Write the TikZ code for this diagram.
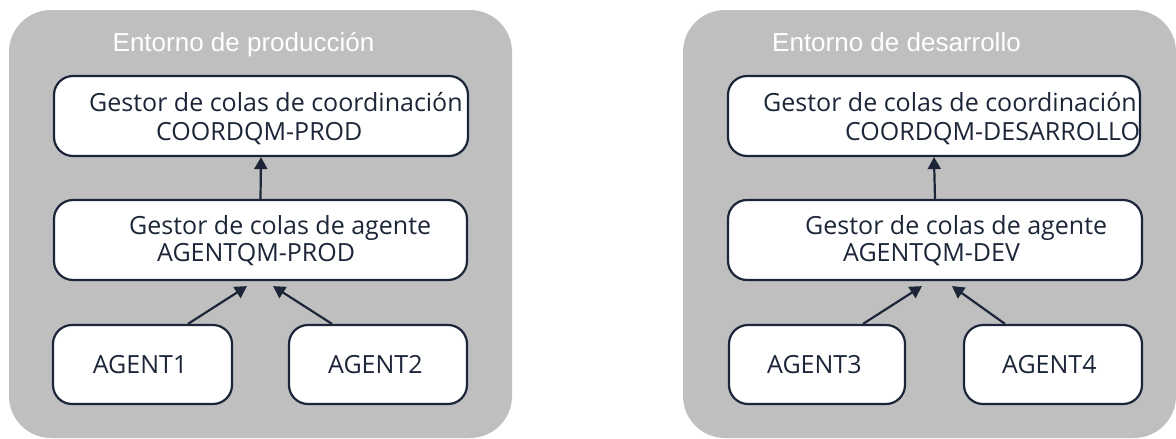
\documentclass[tikz,border=0pt]{standalone}
\usepackage{fontspec}
\setmainfont{Open Sans}
\newfontfamily\titlefont{Liberation Sans}
\usetikzlibrary{arrows.meta}
\definecolor{bgray}{RGB}{191,191,191}
\definecolor{navy}{RGB}{28,38,56}
\tikzset{
  panel/.style={fill=bgray, draw=none, rounded corners=42pt},
  qbox/.style={draw=navy, line width=2.2pt, fill=white, rounded corners=19pt, inner sep=0pt},
  txt/.style={anchor=base west, inner sep=0pt, text=navy, font=\fontsize{25}{30}\selectfont},
  ttl/.style={anchor=base west, inner sep=0pt, text=white, font=\titlefont\fontsize{26}{30}\selectfont},
  arr/.style={draw=navy, line width=2.2pt, -{Triangle[length=12pt,width=13pt]}}
}
\begin{document}
\begin{tikzpicture}[x=1pt,y=-1pt]
\useasboundingbox (0,0) rectangle (1176,439);
% panels
\path[panel] (9,10) rectangle (512,438);
\path[panel] (683,10) rectangle (1176,438);
\node[ttl] (t1) at (112.5,51.7) {Entorno de producción};
\node[ttl] (t2) at (772,51.7) {Entorno de desarrollo};
% left boxes
\node[qbox, minimum width=414pt, minimum height=80pt] (c1) at (261,116) {};
\node[qbox, minimum width=413pt, minimum height=80pt] (q1) at (260.5,240) {};
\node[qbox, minimum width=179pt, minimum height=79pt] (a1) at (142.5,364.5) {};
\node[qbox, minimum width=178pt, minimum height=79pt] (a2) at (378,364.5) {};
% right boxes
\node[qbox, minimum width=412pt, minimum height=80pt] (c2) at (934,116) {};
\node[qbox, minimum width=414pt, minimum height=80pt] (q2) at (935,240) {};
\node[qbox, minimum width=176pt, minimum height=79pt] (a3) at (817,364.5) {};
\node[qbox, minimum width=178pt, minimum height=79pt] (a4) at (1053,364.5) {};
% texts left
\node[txt] (c1a) at (89,111.7) {Gestor de colas de coordinación};
\node[txt] (c1b) at (156,140) {COORDQM-PROD};
\node[txt] (q1a) at (129,234) {Gestor de colas de agente};
\node[txt] (q1b) at (157,261.7) {AGENTQM-PROD};
\node[txt] (a1t) at (92.7,373) {AGENT1};
\node[txt] (a2t) at (328,373) {AGENT2};
% texts right
\node[txt] (c2a) at (763,111.7) {Gestor de colas de coordinación};
\node[txt] (c2b) at (845,140) {COORDQM-DESARROLLO};
\node[txt] (q2a) at (805,234) {Gestor de colas de agente};
\node[txt] (q2b) at (843,261.7) {AGENTQM-DEV};
\node[txt] (a3t) at (767,373) {AGENT3};
\node[txt] (a4t) at (1002,373) {AGENT4};
% arrows
\draw[arr] (q1.north) -- (c1.south);
\draw[arr] (q2.north) -- (c2.south);
\draw[arr] ([xshift=45.5pt]a1.north) -- ([xshift=-13.5pt,yshift=-5pt]q1.south);
\draw[arr] ([xshift=-46pt]a2.north) -- ([xshift=12.5pt,yshift=-5pt]q1.south);
\draw[arr] ([xshift=46pt]a3.north) -- ([xshift=-13pt,yshift=-5pt]q2.south);
\draw[arr] ([xshift=-48pt]a4.north) -- ([xshift=17pt,yshift=-5pt]q2.south);
\end{tikzpicture}
\end{document}
